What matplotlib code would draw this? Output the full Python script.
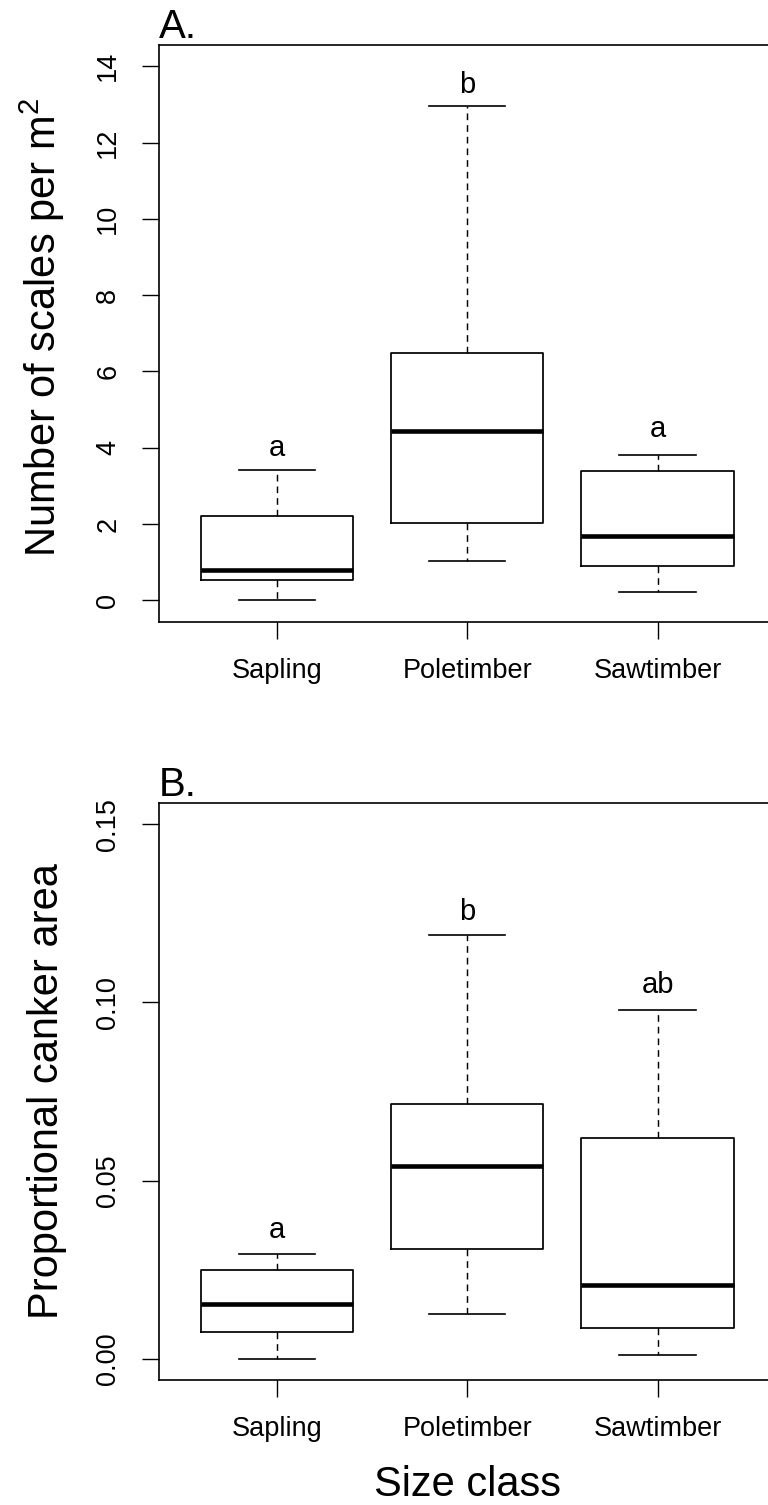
import matplotlib.pyplot as plt
import numpy as np

plt.rcParams['font.family'] = ['Liberation Sans', 'DejaVu Sans']
plt.rcParams['mathtext.fontset'] = 'custom'
plt.rcParams['mathtext.rm'] = 'Liberation Sans'
plt.rcParams['mathtext.default'] = 'rm'

classes = ['Sapling', 'Poletimber', 'Sawtimber']

# panel A: number of scales per m^2
a_whislo = [0.0, 1.02, 0.23]
a_q1 = [0.53, 2.02, 0.91]
a_med = [0.79, 4.44, 1.69]
a_q3 = [2.20, 6.48, 3.38]
a_whishi = [3.42, 12.96, 3.82]
a_letters = ['a', 'b', 'a']
a_letter_y = [4.0, 13.5, 4.5]
a_ticks = [0, 2, 4, 6, 8, 10, 12, 14]

# panel B: proportional canker area
b_whislo = [0.0, 0.0124, 0.0009]
b_q1 = [0.0076, 0.0309, 0.0087]
b_med = [0.0152, 0.0540, 0.0207]
b_q3 = [0.0248, 0.0714, 0.0619]
b_whishi = [0.0295, 0.1188, 0.0980]
b_letters = ['a', 'b', 'ab']
b_letter_y = [0.0362, 0.1255, 0.105]
b_ticks = [0.00, 0.05, 0.10, 0.15]
b_ticklabels = ['0.00', '0.05', '0.10', '0.15']

W, H = 768, 1505
fig = plt.figure(figsize=(W / 100, H / 100), dpi=100)

left = 159 / W
width = (775.5 - 159) / W
ax_a = fig.add_axes([left, 1 - 621.7 / H, width, (621.7 - 45) / H])
ax_b = fig.add_axes([left, 1 - 1380 / H, width, (1380 - 803) / H])


def draw_panel(ax, whislo, q1, med, q3, whishi, letters, letter_y, ymax):
    stats = []
    for i in range(len(classes)):
        stats.append(dict(whislo=whislo[i], q1=q1[i], med=med[i], q3=q3[i],
                          whishi=whishi[i], fliers=[]))
    ax.bxp(stats, positions=[1, 2, 3], widths=0.8, capwidths=0.4,
           showfliers=False, patch_artist=False,
           boxprops=dict(color='black', linewidth=1.25),
           medianprops=dict(color='black', linewidth=3.3, solid_capstyle='butt'),
           whiskerprops=dict(color='black', linewidth=1.05, linestyle=(0, (4.6, 3.4))),
           capprops=dict(color='black', linewidth=1.2))
    for x, (lab, y) in enumerate(zip(letters, letter_y), start=1):
        ax.text(x, y, lab, ha='center', va='center', fontsize=21)
    ax.set_xlim(0.38, 3.62)
    pad = 0.04 * ymax
    ax.set_ylim(-pad, ymax + pad)
    ax.set_xticks([1, 2, 3])
    ax.set_xticklabels(classes)
    ax.tick_params(axis='both', length=12.2, width=1.0, labelsize=19.5, pad=14)
    ax.tick_params(axis='y', labelrotation=90, pad=15)
    for s in ax.spines.values():
        s.set_linewidth(1.2)


draw_panel(ax_a, a_whislo, a_q1, a_med, a_q3, a_whishi, a_letters, a_letter_y, 14)
ax_a.set_yticks(a_ticks)
ax_a.set_yticklabels([str(t) for t in a_ticks], va='center')
ax_a.set_ylabel('Number of scales per m$^2$', fontsize=30)
ax_a.yaxis.set_label_coords(-0.149, 0.51)
ax_a.text(0.0, 1 + 7 / 576.7, 'A.', transform=ax_a.transAxes,
          ha='left', va='baseline', fontsize=29)

draw_panel(ax_b, b_whislo, b_q1, b_med, b_q3, b_whishi, b_letters, b_letter_y, 0.15)
ax_b.set_yticks(b_ticks)
ax_b.set_yticklabels(b_ticklabels, va='center')
ax_b.set_ylabel('Proportional canker area', fontsize=30)
ax_b.yaxis.set_label_coords(-0.149, 0.5)
ax_b.set_xlabel('Size class', fontsize=30, labelpad=16)
ax_b.text(0.0, 1 + 7 / 577, 'B.', transform=ax_b.transAxes,
          ha='left', va='baseline', fontsize=29)

fig.savefig('out.png', dpi=100)
